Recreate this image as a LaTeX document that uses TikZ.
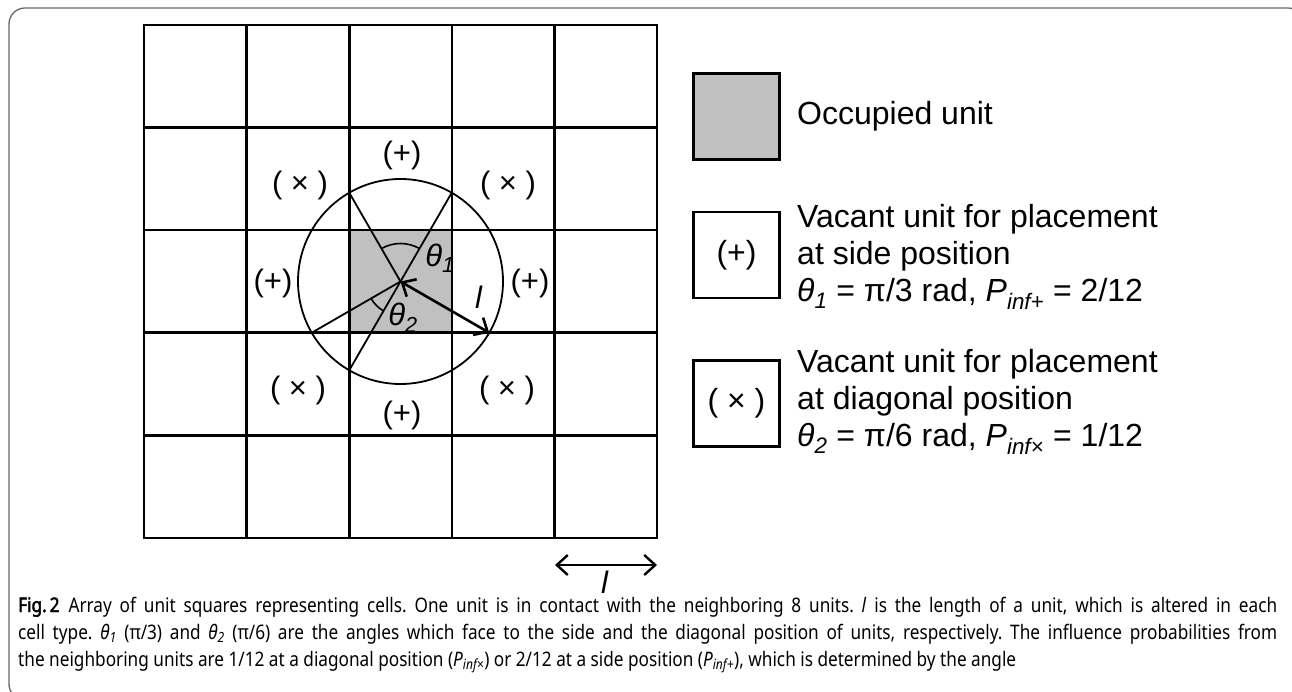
\documentclass[tikz,border=0pt]{standalone}
\usepackage{fontspec}
\setmainfont{Liberation Sans}
\newfontfamily\capfont[FakeStretch=0.86]{Noto Sans}
\newfontfamily\capboldfont[FakeStretch=0.86,FakeBold=2.2]{Noto Sans}
\usetikzlibrary{arrows.meta}
\definecolor{occgray}{RGB}{192,192,192}
\definecolor{framegray}{RGB}{105,105,105}

\begin{document}
\begin{tikzpicture}[x=1pt,y=1pt,
  gridline/.style={line width=2.6pt, line cap=rect},
  geo/.style={line width=1.8pt},
  lbl/.style={font=\fontsize{31}{36}\selectfont, inner sep=0pt},
  legtext/.style={font=\fontsize{32}{37}\selectfont, anchor=west, align=left, inner sep=0pt},
  legbox/.style={draw, line width=2.6pt, minimum size=86pt, inner sep=0pt, font=\fontsize{32}{37}\selectfont},
  captext/.style={font={\capfont\fontsize{20}{24}\selectfont\frenchspacing}, anchor=base west, inner sep=0pt},
  dblbarb/.style={line width=2.6pt, {Straight Barb[length=11pt,width=20pt]}-{Straight Barb[length=11pt,width=20pt]}}
]
\useasboundingbox (0,0) rectangle (1292,691);

% outer rounded frame, partly running off the page
\begin{scope}
  \clip (0,0) rectangle (1292,691);
  \draw[framegray, line width=1.3pt, rounded corners=16pt] (9,-9) rectangle (1304,683);
\end{scope}

% occupied cell in the middle of the 5x5 array
\node[fill=occgray, minimum size=102.6pt, inner sep=0pt, outer sep=0pt] (occ) at (400.5,409.5) {};
\coordinate (c) at (occ.center);

% 5x5 grid of units
\foreach \i in {0,...,5} {
  \draw[gridline] (144+\i*102.6,153) -- (144+\i*102.6,666);
  \draw[gridline] (144,153+\i*102.6) -- (657,153+\i*102.6);
}

% circle of radius l and angle construction
\node[circle, draw, geo, minimum size=205pt, inner sep=0pt, outer sep=0pt] (ring) at (c) {};
\draw[geo] (c) -- (ring.120);
\draw[geo] (ring.60) -- (ring.240);
\draw[geo] (c) -- (ring.210);
\draw[dblbarb] (c) -- (ring.-30);
\draw[line width=1.6pt] ([shift={(60:38pt)}]c) arc[start angle=60, end angle=120, radius=38pt];
\draw[line width=1.6pt] ([shift={(210:34pt)}]c) arc[start angle=210, end angle=240, radius=34pt];

\node[lbl] (th1) at (440,433) {\textit{θ}\textsubscript{\textit{1}}};
\node[lbl] (th2) at (403,373) {\textit{θ}\textsubscript{\textit{2}}};
\node[lbl] (lr) at (479,394) {\textit{l}};

% neighbour labels
\node[lbl] (pt) at (402,536) {(+)};
\node[lbl] (pl) at (273,408) {(+)};
\node[lbl] (pr) at (530,408) {(+)};
\node[lbl] (pb) at (402,276) {(+)};
\node[lbl] (xtl) at (300,506) {( × )};
\node[lbl] (xtr) at (508,506) {( × )};
\node[lbl] (xbl) at (298,301) {( × )};
\node[lbl] (xbr) at (507,301) {( × )};

% unit length marker
\coordinate (la) at (555,126);
\coordinate (lb) at (657,126);
\draw[dblbarb, line width=2.4pt] (la) -- (lb);
\node[lbl, font=\fontsize{31}{36}\selectfont] (lname) at (605,109) {\textit{l}};

% legend
\node[legbox, fill=occgray, line width=3pt] (occbox) at (736,574.5) {};
\node[legtext] (occtxt) at (797,575) {Occupied unit};
\node[legbox] (sidebox) at (736.5,436) {(+)};
\node[legtext] (sidetxt) at (797,434) {Vacant unit for placement\\at side position\\\textit{θ}\textsubscript{\textit{1}} = π/3 rad, \textit{P}\textsubscript{\textit{inf+}} = 2/12};
\node[legbox] (diagbox) at (736.5,287.5) {( × )};
\node[legtext] (diagtxt) at (797,289) {Vacant unit for placement\\at diagonal position\\\textit{θ}\textsubscript{\textit{2}} = π/6 rad, \textit{P}\textsubscript{\textit{inf×}} = 1/12};

% caption
\node[captext] (cap1) at (18,79) {\makebox[1259pt][s]{{\capboldfont Fig.\hspace{3pt}2}\hspace{9pt}Array of unit squares representing cells. One unit is in contact with the neighboring 8 units. \textit{l} is the length of a unit, which is altered in each}};
\node[captext] (cap2) at (18,52) {\makebox[1259pt][s]{cell type. \textit{θ}\textsubscript{\textit{1}} (π/3) and \textit{θ}\textsubscript{\textit{2}} (π/6) are the angles which face to the side and the diagonal position of units, respectively. The influence probabilities from}};
\node[captext] (cap3) at (18,25) {the neighboring units are 1/12 at a diagonal position (\textit{P}\textsubscript{\textit{inf×}}) or 2/12 at a side position (\textit{P}\textsubscript{\textit{inf+}}), which is determined by the angle};
\end{tikzpicture}
\end{document}
